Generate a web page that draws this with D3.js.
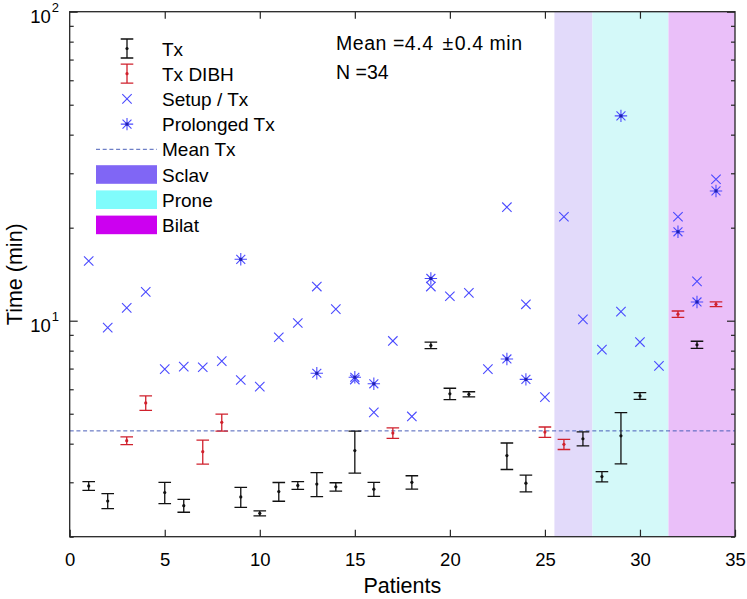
<!DOCTYPE html>
<html><head><meta charset="utf-8">
<script src="https://cdn.jsdelivr.net/npm/d3@7"></script>
<style>body{margin:0;background:#fff}svg{display:block}text{font-family:"Liberation Sans",Arial,sans-serif;fill:#000}</style>
</head><body><svg id="c" width="747" height="599"></svg>
<script>
// ---- data ----
const setupPatients = [1,2,3,4,5,6,7,8,9,10,11,12,13,14,15,16,17,18,19,20,21,22,23,24,25,26,27,28,29,30,31,32,33,34];
const setupValues   = [15.6,9.5,11.0,12.4,6.97,7.1,7.07,7.4,6.43,6.12,8.84,9.83,12.9,10.9,6.45,5.05,8.6,4.9,12.9,12.0,12.3,6.97,23.3,11.3,5.66,21.7,10.1,8.06,10.7,8.53,7.14,21.7,13.4,28.7];
const prolongedPatients = [9,13,15,16,19,23,24,29,32,33,34];
const prolongedValues   = [15.8,6.76,6.56,6.25,13.7,7.52,6.46,46.0,19.4,11.5,26.3];
const txPatients = [1,2,5,6,9,10,11,12,13,14,15,16,18,19,20,21,23,24,27,28,29,30,33];
const txMeans    = [2.92,2.61,2.78,2.52,2.69,2.38,2.80,2.93,2.96,2.90,3.80,2.85,3.0,8.32,5.8,5.78,3.66,2.98,4.15,3.13,4.24,5.71,8.36];
const txErrors   = [0.095,0.145,0.22,0.12,0.2,0.045,0.195,0.085,0.265,0.09,0.59,0.15,0.15,0.2,0.245,0.11,0.36,0.185,0.215,0.12,0.8,0.145,0.22];
const dibhPatients = [3,4,7,8,17,25,26,32,34];
const dibhMeans    = [4.09,5.42,3.77,4.69,4.33,4.36,3.98,10.5,11.3];
const dibhErrors   = [0.12,0.295,0.335,0.295,0.17,0.17,0.15,0.25,0.2];
const meanTx = 4.4;
const bandNames = ["Sclav","Prone","Bilat"];
const bandStart = [25.5,27.5,31.5];
const bandEnd   = [27.5,31.5,35];
const xTicks = [0,5,10,15,20,25,30,35];
const yMajor = [10,100];
const yMinor = [2,3,4,5,6,7,8,9,20,30,40,50,60,70,80,90];
const legendLabels = ["Tx","Tx DIBH","Setup / Tx","Prolonged Tx","Mean Tx","Sclav","Prone","Bilat"];

// ---- styles ----
const bandFill = ["#e2dafa","#d4f9f9","#eabff9"];
const bandLegend = ["#8066f5","#80fcfc","#cc00f0"];
const blue = "#4a4aff";
const red = "#d0202c";
const axisCol = "#262626";

const svg = d3.select("#c");
const L=69.7,R=735,T=11.7,B=536.7;
const x = d3.scaleLinear().domain([0,35]).range([L,R]);
const y = d3.scaleLog().domain([2,100]).range([B,T]);

// bands
svg.append("g").selectAll("rect").data(bandNames).join("rect")
  .attr("x",(d,i)=>x(bandStart[i])).attr("width",(d,i)=>x(bandEnd[i])-x(bandStart[i]))
  .attr("y",T).attr("height",B-T).attr("fill",(d,i)=>bandFill[i]);

// mean line
svg.append("line").attr("x1",L).attr("x2",R).attr("y1",y(meanTx)).attr("y2",y(meanTx))
  .attr("stroke","#4a5fb8").attr("stroke-width",1).attr("stroke-dasharray","4,2.7");

// axes
function styleAxis(g){g.select(".domain").remove();g.selectAll("line").attr("stroke",axisCol).attr("stroke-width",1.2);}
svg.append("g").attr("transform",`translate(0,${B})`)
  .call(d3.axisBottom(x).tickValues(xTicks).tickSize(-7).tickPadding(16).tickFormat(d3.format("d")))
  .call(styleAxis).call(g=>g.selectAll("text").attr("font-size",18.5).attr("fill","#000").attr("font-family","Liberation Sans, Arial, sans-serif"));
svg.append("g").attr("transform",`translate(0,${T})`)
  .call(d3.axisTop(x).tickValues(xTicks.slice(1,-1)).tickSize(-7).tickFormat(""))
  .call(styleAxis);
svg.append("g").attr("transform",`translate(${L},0)`)
  .call(d3.axisLeft(y).tickValues(yMajor).tickSize(-8).tickFormat(""))
  .call(styleAxis);
svg.append("g").attr("transform",`translate(${L},0)`)
  .call(d3.axisLeft(y).tickValues(yMinor).tickSize(-4).tickFormat(""))
  .call(styleAxis);
svg.append("g").attr("transform",`translate(${R},0)`)
  .call(d3.axisRight(y).tickValues(yMajor).tickSize(-8).tickFormat(""))
  .call(styleAxis);
svg.append("g").attr("transform",`translate(${R},0)`)
  .call(d3.axisRight(y).tickValues(yMinor).tickSize(-4).tickFormat(""))
  .call(styleAxis);
// y tick labels
const yl = svg.append("g").selectAll("text").data(yMajor).join("text")
  .attr("x",59).attr("y",d=>y(d)+11).attr("text-anchor","end").attr("font-size",18.5);
yl.append("tspan").text("10");
yl.append("tspan").attr("font-size",13).attr("dy",-11).attr("dx",1).text(d=>Math.round(Math.log10(d)));

// frame
svg.append("rect").attr("x",L).attr("y",T).attr("width",R-L).attr("height",B-T)
  .attr("fill","none").attr("stroke",axisCol).attr("stroke-width",1.3);

// axis labels
svg.append("text").attr("x",(L+R)/2).attr("y",593).attr("text-anchor","middle").attr("font-size",21.5).text("Patients");
svg.append("text").attr("transform",`translate(22,${(T+B)/2}) rotate(-90)`).attr("text-anchor","middle").attr("font-size",21.5).text("Time (min)");

// markers
function cross(g,cx,cy,s,col){
  g.append("path").attr("d",`M${cx-s},${cy-s}L${cx+s},${cy+s}M${cx-s},${cy+s}L${cx+s},${cy-s}`)
   .attr("stroke",col).attr("stroke-width",1.1).attr("fill","none");
}
function star(g,cx,cy,s,col){
  const d=s*0.72;
  g.append("path").attr("d",`M${cx-s},${cy}L${cx+s},${cy}M${cx},${cy-s}L${cx},${cy+s}M${cx-d},${cy-d}L${cx+d},${cy+d}M${cx-d},${cy+d}L${cx+d},${cy-d}`)
   .attr("stroke",col).attr("stroke-width",1.1).attr("fill","none");
  g.append("rect").attr("x",cx-1.5).attr("y",cy-1.5).attr("width",3).attr("height",3).attr("fill","#2020b0");
}
function ebar(g,cx,yTop,yBot,yMid,col){
  g.append("path").attr("d",`M${cx},${yTop}L${cx},${yBot}M${cx-6.3},${yTop}L${cx+6.3},${yTop}M${cx-6.3},${yBot}L${cx+6.3},${yBot}`)
   .attr("stroke",col).attr("stroke-width",1.3).attr("fill","none");
  g.append("circle").attr("cx",cx).attr("cy",yMid).attr("r",1.6).attr("fill",col);
}
const mg = svg.append("g");
setupPatients.forEach((p,i)=>cross(mg,x(p),y(setupValues[i]),4.7,blue));
prolongedPatients.forEach((p,i)=>star(mg,x(p),y(prolongedValues[i]),6.2,blue));
txPatients.forEach((p,i)=>ebar(mg,x(p),y(txMeans[i]+txErrors[i]),y(txMeans[i]-txErrors[i]),y(txMeans[i]),"#111"));
dibhPatients.forEach((p,i)=>ebar(mg,x(p),y(dibhMeans[i]+dibhErrors[i]),y(dibhMeans[i]-dibhErrors[i]),y(dibhMeans[i]),red));

// legend
const lg = svg.append("g");
const rowY = i=>48.5+i*25.2;
ebar(lg,127,rowY(0)-9.5,rowY(0)+9.5,rowY(0),"#111");
ebar(lg,127,rowY(1)-9.5,rowY(1)+9.5,rowY(1),red);
cross(lg,127,rowY(2),4.7,blue);
star(lg,127,rowY(3),6.2,blue);
lg.append("line").attr("x1",96).attr("x2",157).attr("y1",rowY(4)).attr("y2",rowY(4))
  .attr("stroke","#4a5fb8").attr("stroke-width",1).attr("stroke-dasharray","4,2.7");
bandNames.forEach((n,i)=>lg.append("rect").attr("x",96).attr("y",rowY(5+i)-9.3).attr("width",61).attr("height",18.6).attr("fill",bandLegend[i]));
lg.selectAll("text.lt").data(legendLabels).join("text").attr("class","lt")
  .attr("x",162).attr("y",(d,i)=>rowY(i)+7).attr("font-size",19).text(d=>d);

// annotation
const ann = svg.append("text").attr("x",336).attr("y",50).attr("font-size",19.5);
ann.append("tspan").text("Mean =4.4 ");
ann.append("tspan").attr("dx",3).text("\u00B1");
ann.append("tspan").attr("dx",1).text("0.4 min");
ann.attr("textLength",186).attr("lengthAdjust","spacing");
svg.append("text").attr("x",336).attr("y",79).attr("font-size",19.5).text("N =34");
</script></body></html>
